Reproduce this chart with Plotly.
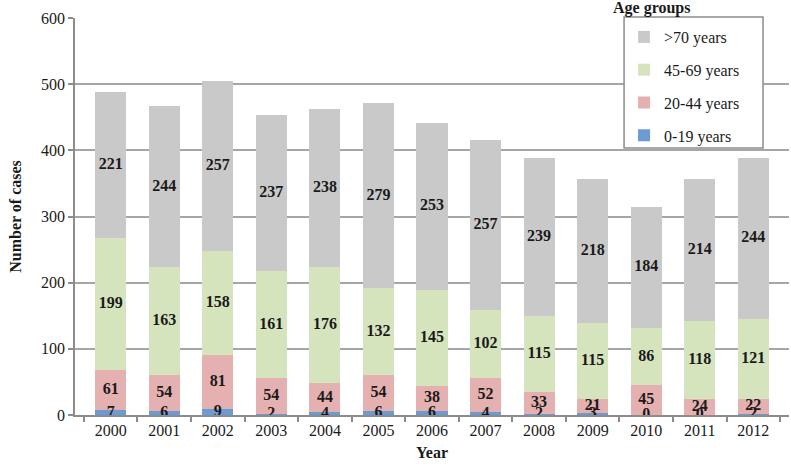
import plotly.graph_objects as go

years = ["2000", "2001", "2002", "2003", "2004", "2005", "2006",
         "2007", "2008", "2009", "2010", "2011", "2012"]
age_0_19 = [7, 6, 9, 2, 4, 6, 6, 4, 2, 3, 0, 0, 2]
age_20_44 = [61, 54, 81, 54, 44, 54, 38, 52, 33, 21, 45, 24, 22]
age_45_69 = [199, 163, 158, 161, 176, 132, 145, 102, 115, 115, 86, 118, 121]
age_70p = [221, 244, 257, 237, 238, 279, 253, 257, 239, 218, 184, 214, 244]

series = [
    ("0-19 years", age_0_19, "#6b9bd2"),
    ("20-44 years", age_20_44, "#e5b1b0"),
    ("45-69 years", age_45_69, "#d6e4bd"),
    (">70 years", age_70p, "#c9c9c9"),
]

FONT = "Liberation Serif, Times New Roman, serif"

fig = go.Figure()
base = [0] * len(years)
lab_x, lab_y, lab_t = [], [], []
for k, (name, vals, col) in enumerate(series):
    fig.add_trace(go.Bar(
        x=years, y=vals, name=name, marker=dict(color=col, line=dict(width=0)),
        legendgroup=name, legendrank=100 - k,
    ))
    for i, v in enumerate(vals):
        lab_x.append(years[i])
        lab_y.append(base[i] + v / 2)
        lab_t.append(f"<b>{v}</b>")
        base[i] += v

fig.add_trace(go.Scatter(
    x=lab_x, y=lab_y, text=lab_t, mode="text", showlegend=False,
    textfont=dict(family=FONT, size=16, color="#1a1a1a"),
    hoverinfo="skip",
))

# legend frame
fig.add_shape(
    type="rect", xref="paper", yref="paper",
    x0=0.769, x1=0.9636, y0=0.6725, y1=1.0025,
    fillcolor="white", line=dict(color="#8c8c8c", width=1.5), layer="above",
)

fig.add_annotation(
    x=0.866, y=1.0, xref="paper", yref="paper", yanchor="bottom",
    text="<b>Age groups</b>", showarrow=False, yshift=-1,
    font=dict(family=FONT, size=16, color="#1a1a1a"),
)

fig.update_layout(
    width=791, height=471,
    margin=dict(l=75, r=2, t=18, b=56),
    barmode="stack", bargap=0.42,
    plot_bgcolor="white", paper_bgcolor="white",
    font=dict(family=FONT, size=16, color="#1a1a1a"),
    legend=dict(
        x=0.769, y=0.995, xanchor="left", yanchor="top",
        traceorder="grouped", tracegroupgap=9,
        bgcolor="rgba(0,0,0,0)", borderwidth=0,
        font=dict(family=FONT, size=16, color="#1a1a1a"),
    ),
    xaxis=dict(
        type="category", showline=True, linecolor="#8c8c8c", linewidth=1.5,
        ticks="outside", tickson="boundaries", ticklen=5, tickcolor="#8c8c8c",
        tickwidth=1.5,
        title=dict(text="<b>Year</b>", font=dict(family=FONT, size=16), standoff=9),
    ),
    yaxis=dict(
        range=[0, 600], dtick=100, showline=True, linecolor="#8c8c8c", linewidth=1.5,
        ticks="outside", ticklen=5, tickcolor="#8c8c8c", tickwidth=1.5,
        showgrid=True, gridcolor="#a6a6a6", gridwidth=1.5, zeroline=False,
        title=dict(text="<b>Number of cases</b>", font=dict(family=FONT, size=16), standoff=15),
    ),
)

fig.write_html("out.html", config={"displayModeBar": False},
               post_script="document.body.style.margin='0';")
